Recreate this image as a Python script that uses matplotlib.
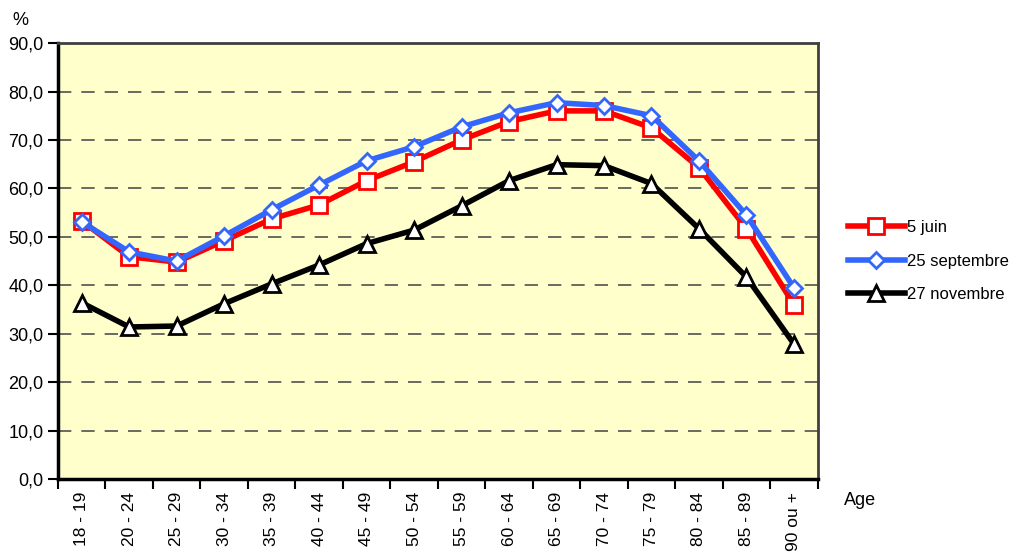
import numpy as np
import matplotlib.pyplot as plt

ages = ['18 - 19', '20 - 24', '25 - 29', '30 - 34', '35 - 39', '40 - 44', '45 - 49',
        '50 - 54', '55 - 59', '60 - 64', '65 - 69', '70 - 74', '75 - 79', '80 - 84',
        '85 - 89', '90 ou +']
juin = [53.3, 45.9, 44.8, 49.2, 53.7, 56.6, 61.6, 65.5, 70.0, 73.8, 76.0, 76.0, 72.5, 64.3, 51.7, 36.0]
septembre = [53.1, 46.9, 45.0, 50.2, 55.6, 60.7, 65.7, 68.6, 72.7, 75.6, 77.7, 77.1, 75.0, 65.7, 54.5, 39.5]
novembre = [36.4, 31.4, 31.6, 36.2, 40.3, 44.2, 48.6, 51.4, 56.4, 61.6, 64.9, 64.7, 61.0, 51.7, 41.7, 27.9]

plt.rcParams['font.family'] = ['Liberation Sans', 'DejaVu Sans']

fig = plt.figure(figsize=(10.17, 5.52), dpi=100)
ax = fig.add_axes([0.057, 0.132, 0.747, 0.79])
ax.set_facecolor('#ffffcc')

x = np.arange(len(ages))
ax.plot(x, juin, color='#ff0000', lw=4, marker='s', ms=11, mfc='white', mec='#ff0000', mew=2,
        label='5 juin', zorder=3)
ax.plot(x, septembre, color='#3366ff', lw=4, marker='D', ms=8, mfc='white', mec='#3366ff', mew=2,
        label='25 septembre', zorder=4)
ax.plot(x, novembre, color='black', lw=4, marker='^', ms=12, mfc='white', mec='black', mew=2,
        label='27 novembre', zorder=3)

ax.set_xlim(-0.5, len(ages) - 0.5)
ax.set_ylim(0, 90)
ax.set_yticks(np.arange(0, 91, 10))
ax.set_yticklabels([f'{v:.1f}'.replace('.', ',') for v in np.arange(0, 91, 10)], fontsize=13)
ax.yaxis.grid(True, linestyle=(0, (8, 6)), color='#505050', lw=1.2)

ax.set_xticks(x)
ax.set_xticklabels(ages, rotation=90, fontsize=12.5)
ax.set_xticks(np.arange(-0.5, len(ages), 1), minor=True)
ax.tick_params(axis='x', which='major', length=0, pad=9)
ax.tick_params(axis='x', which='minor', length=7, width=1.5, direction='out')
ax.tick_params(axis='y', length=7, width=1.5, direction='out')

for side in ['left', 'bottom']:
    ax.spines[side].set_linewidth(2.5)
    ax.spines[side].set_color('black')
for side in ['top', 'right']:
    ax.spines[side].set_linewidth(2)
    ax.spines[side].set_color('#404040')

fig.text(0.012, 0.955, '%', fontsize=13)
fig.text(0.83, 0.085, 'Age', fontsize=13)

ax.legend(loc='center left', bbox_to_anchor=(1.02, 0.5), frameon=False, fontsize=12,
          handlelength=3.4, labelspacing=1.1, handletextpad=0.15)

fig.savefig('out.png', dpi=100)
